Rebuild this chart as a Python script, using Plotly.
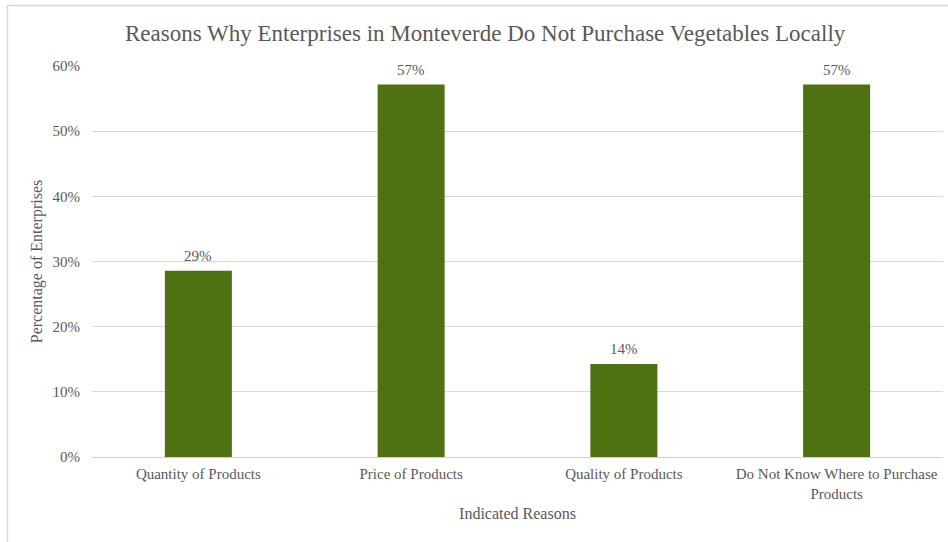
import plotly.graph_objects as go

# Survey results: share of enterprises citing each reason
categories = [
    "Quantity of Products",
    "Price of Products",
    "Quality of Products",
    "Do Not Know Where to Purchase<br>Products",
]
shares = [2 / 7, 4 / 7, 1 / 7, 4 / 7]
y_ticks = [0, 0.1, 0.2, 0.3, 0.4, 0.5, 0.6]
y_tick_labels = ["0%", "10%", "20%", "30%", "40%", "50%", "60%"]

FONT = "Liberation Serif"
TEXT = "#595959"
BAR = "#4E7111"

W, H = 948, 542
L, R, T, B = 92, 5, 66, 85
pw, ph = W - L - R, H - T - B


def px_x(x):
    return (x - L) / pw


def px_y(y):
    return (H - B - y) / ph


fig = go.Figure(
    go.Bar(
        x=categories,
        y=shares,
        marker=dict(color=BAR, line=dict(width=0)),
        width=0.315,
        cliponaxis=False,
    )
)

# value labels above each bar
value_labels = [
    dict(
        x=c, y=v, xref="x", yref="y",
        text=f"{round(v * 100):.0f}%",
        showarrow=False, xanchor="center", yanchor="bottom", yshift=5,
        font=dict(family=FONT, size=15, color=TEXT),
    )
    for c, v in zip(categories, shares)
]

fig.update_layout(
    width=W,
    height=H,
    margin=dict(l=L, r=R, t=T, b=B),
    paper_bgcolor="white",
    plot_bgcolor="white",
    showlegend=False,
    font=dict(family=FONT, color=TEXT, size=15),
    xaxis=dict(
        showgrid=False,
        showline=True,
        linecolor="#D0D0D0",
        linewidth=1,
        ticks="",
        ticklabelstandoff=3,
        tickfont=dict(family=FONT, size=15, color=TEXT),
        title=dict(text="Indicated Reasons", font=dict(family=FONT, size=16, color=TEXT), standoff=7),
    ),
    yaxis=dict(
        range=[0, 0.6],
        tickvals=y_ticks,
        ticktext=y_tick_labels,
        showgrid=True,
        gridcolor="#D9D9D9",
        gridwidth=1,
        zeroline=False,
        showline=False,
        ticks="",
        ticklabelstandoff=11,
        tickfont=dict(family=FONT, size=15, color=TEXT),
        title=dict(text="Percentage of Enterprises", font=dict(family=FONT, size=16, color=TEXT), standoff=5),
    ),
    annotations=[
        dict(
            text="Reasons Why Enterprises in Monteverde Do Not Purchase Vegetables Locally",
            xref="paper",
            yref="paper",
            x=px_x(485),
            y=px_y(33),
            xanchor="center",
            yanchor="middle",
            showarrow=False,
            font=dict(family=FONT, size=23, color=TEXT),
        )
    ] + value_labels,
    shapes=[
        dict(type="line", xref="paper", yref="paper", x0=px_x(7.5), x1=px_x(7.5),
             y0=px_y(5.5), y1=px_y(H), line=dict(color="#D9D9D9", width=1.5)),
        dict(type="line", xref="paper", yref="paper", x0=px_x(7.5), x1=px_x(W),
             y0=px_y(5.5), y1=px_y(5.5), line=dict(color="#D9D9D9", width=1.5)),
    ],
)

fig.write_html("out.html")
